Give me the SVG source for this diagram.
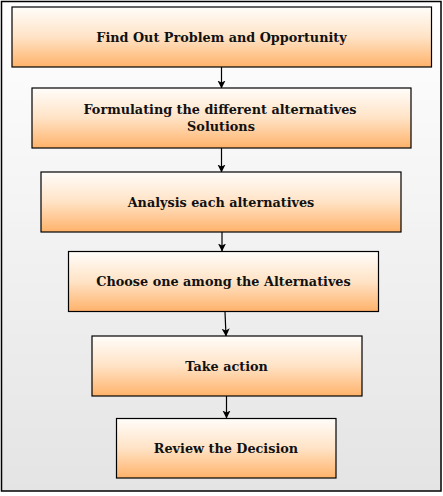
<svg xmlns="http://www.w3.org/2000/svg" width="443" height="496" viewBox="0 0 443 496">
<defs>
<linearGradient id="bg" x1="0" y1="0" x2="0" y2="1">
<stop offset="0" stop-color="#ffffff"/>
<stop offset="1" stop-color="#e4e4e4"/>
</linearGradient>
<linearGradient id="box" x1="0" y1="0" x2="0" y2="1">
<stop offset="0" stop-color="#fffdfa"/>
<stop offset="0.5" stop-color="#ffe3c6"/>
<stop offset="1" stop-color="#ffb26a"/>
</linearGradient>
<marker id="arr" markerWidth="8" markerHeight="9" refX="7.5" refY="4" orient="auto" markerUnits="userSpaceOnUse">
<path d="M0,0 L8,4 L0,8 L2,4 Z" fill="#000"/>
</marker>
<style>
.b{fill:url(#box);stroke:#000;stroke-width:1.2}
.t{font-family:"DejaVu Serif","Liberation Serif",serif;font-weight:bold;font-size:12.8px;fill:#111;text-anchor:middle}
.c{stroke:#000;stroke-width:1.2;fill:none;marker-end:url(#arr)}
</style>
</defs>
<rect x="1.5" y="1.5" width="439.5" height="489.5" fill="url(#bg)" stroke="#000" stroke-width="1.5"/>
<g id="connectors">
<line class="c" x1="221.5" y1="67" x2="221.5" y2="88"/>
<line class="c" x1="221.5" y1="148" x2="221.5" y2="172"/>
<line class="c" x1="222" y1="232" x2="222" y2="251"/>
<line class="c" x1="225" y1="312" x2="226" y2="336"/>
<line class="c" x1="226.5" y1="396" x2="226.5" y2="418"/>
</g>
<g id="n1"><rect class="b" x="12" y="7" width="419.5" height="60"/><text class="t" x="221.5" y="42">Find Out Problem and Opportunity</text></g>
<g id="n2"><rect class="b" x="32" y="88" width="379" height="60"/><text class="t" x="220" y="114">Formulating the different alternatives</text><text class="t" x="221" y="131">Solutions</text></g>
<g id="n3"><rect class="b" x="41" y="172" width="360" height="60"/><text class="t" x="221" y="207">Analysis each alternatives</text></g>
<g id="n4"><rect class="b" x="68.5" y="251.5" width="310" height="60"/><text class="t" x="223.5" y="286">Choose one among the Alternatives</text></g>
<g id="n5"><rect class="b" x="92" y="336" width="270" height="60"/><text class="t" x="226.5" y="371">Take action</text></g>
<g id="n6"><rect class="b" x="116.5" y="418.5" width="219.5" height="59.5"/><text class="t" x="226" y="453">Review the Decision</text></g>
</svg>
